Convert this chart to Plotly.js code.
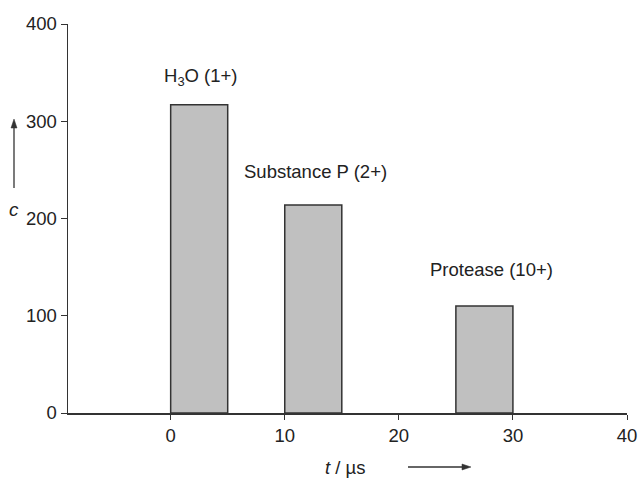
<!DOCTYPE html>
<html>
<head>
<meta charset="utf-8">
<script src="https://cdn.plot.ly/plotly-3.0.1.min.js"></script>
<style>html,body{margin:0;padding:0;background:#fff;}#chart{width:638px;height:478px;}</style>
</head>
<body>
<div id="chart"></div>
<script>
const starts = [0, 10, 25];
const widths = [5, 5, 5];
const heights = [317, 214, 110];
const labels = ["H<sub>3</sub>O (1+)", "Substance P (2+)", "Protease (10+)"];
const labelX = [2.7, 12.7, 28.1];
const labelY = [345, 248, 148];
const xTicks = [0, 10, 20, 30, 40];
const yTicks = [0, 100, 200, 300, 400];

const font = {family: "Liberation Sans, Arial, sans-serif", size: 18.5, color: "#222"};

const M = {l: 68, r: 11, t: 24, b: 65};
const W = 638, H = 478;
const pw = W - M.l - M.r, ph = H - M.t - M.b;
const px = v => (v - M.l) / pw;
const py = v => (H - M.b - v) / ph;

const trace = {
  type: "bar",
  x: starts,
  y: heights,
  width: widths,
  offset: 0,
  marker: {color: "#c0c0c0", line: {color: "#333", width: 1.5}},
  hoverinfo: "none"
};

const annotations = labels.map((t, i) => ({
  x: labelX[i], y: labelY[i], xref: "x", yref: "y", text: t, showarrow: false,
  xanchor: "center", yanchor: "middle", font: font
}));
annotations.push(
  {xref: "paper", yref: "paper", x: px(14), y: py(210), xanchor: "center", yanchor: "middle", text: "<i>c</i>", showarrow: false, font: {family: font.family, size: 19, color: "#222"}},
  {xref: "paper", yref: "paper", x: px(345), y: py(467), xanchor: "center", yanchor: "middle", text: "<i>t</i> / µs", showarrow: false, font: font}
);

function tri(a, b, c) {
  return `M ${px(a[0])} ${py(a[1])} L ${px(b[0])} ${py(b[1])} L ${px(c[0])} ${py(c[1])} Z`;
}
const shapes = [
  {type: "line", xref: "paper", yref: "paper", x0: px(14), y0: py(188), x1: px(14), y1: py(124), line: {color: "#333", width: 1.3}},
  {type: "path", xref: "paper", yref: "paper", path: tri([14, 119], [11, 128], [17, 128]), fillcolor: "#333", line: {color: "#333", width: 0.5}},
  {type: "line", xref: "paper", yref: "paper", x0: px(408), y0: py(467), x1: px(466), y1: py(467), line: {color: "#333", width: 1.3}},
  {type: "path", xref: "paper", yref: "paper", path: tri([471, 467], [462, 464], [462, 470]), fillcolor: "#333", line: {color: "#333", width: 0.5}}
];

const layout = {
  width: W, height: H,
  margin: M,
  paper_bgcolor: "#fff", plot_bgcolor: "#fff",
  showlegend: false,
  font: font,
  xaxis: {range: [-9, 40], tickvals: xTicks, ticks: "outside", ticklen: 5, tickcolor: "#333",
          showline: true, linecolor: "#333", linewidth: 1.5, showgrid: false, zeroline: false, tickfont: font},
  yaxis: {range: [0, 400], tickvals: yTicks, ticks: "outside", ticklen: 6, tickcolor: "#333",
          showline: true, linecolor: "#333", linewidth: 1.5, showgrid: false, zeroline: false, tickfont: font},
  annotations: annotations,
  shapes: shapes
};

Plotly.newPlot("chart", [trace], layout, {staticPlot: true});
</script>
</body>
</html>
